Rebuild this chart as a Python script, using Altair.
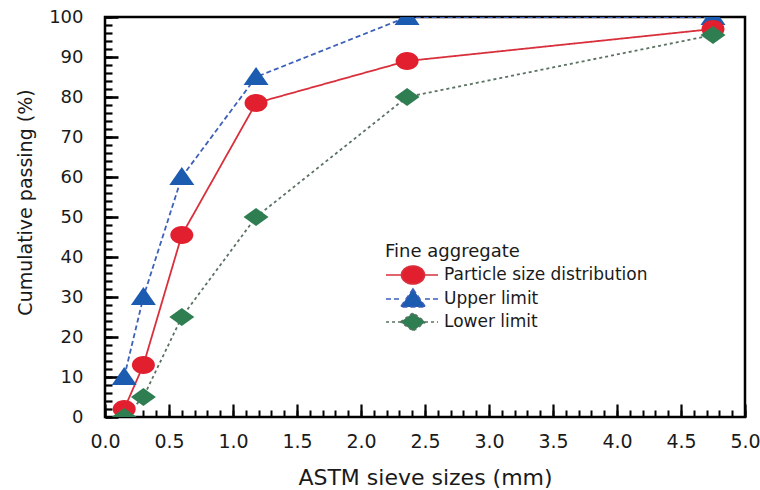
import altair as alt
import pandas as pd

# ---- data ----
sieve_mm = [0.15, 0.3, 0.6, 1.18, 2.36, 4.75]
psd = [2, 13, 45.5, 78.5, 89, 97]
upper = [10, 30, 60, 85, 100, 100]
lower = [0, 5, 25, 50, 80, 95.5]

series_names = ["Particle size distribution", "Upper limit", "Lower limit"]
legend_title = "Fine aggregate"
x_title = "ASTM sieve sizes (mm)"
y_title = "Cumulative passing (%)"

x_major = [0.0, 0.5, 1.0, 1.5, 2.0, 2.5, 3.0, 3.5, 4.0, 4.5, 5.0]
x_minor = [round(i * 0.1, 1) for i in range(51)]
y_major = [0, 10, 20, 30, 40, 50, 60, 70, 80, 90, 100]
y_minor = list(range(0, 101, 2))

# ---- styles (legend order: PSD, upper, lower) ----
fill_colors = ["#e21f2e", "#1b5bb0", "#2f7e52"]
line_colors = ["#d8303c", "#3d60b8", "#5b7262"]
dashes = [[1, 0], [5, 3], [3, 3]]

ellipse = "M1.15,0A1.15,0.9 0 1,1 -1.15,0A1.15,0.9 0 1,1 1.15,0Z"
tri = "M0,-1L1.25,0.8L-1.25,0.8Z"
dia = "M-1.25,0L0,-0.9L1.25,0L0,0.9Z"
stub = "M-2.7,0H-1.2M1.2,0H2.5"
chart_shapes = [ellipse, tri, dia]
legend_shapes = [stub + ellipse, stub + tri, stub + dia]

rows = []
for name, vals in [("Upper limit", upper), ("Particle size distribution", psd), ("Lower limit", lower)]:
    for s, v in zip(sieve_mm, vals):
        rows.append({"series": name, "size": s, "pct": v})
df = pd.DataFrame(rows)

FONT = "DejaVu Sans"
TXT = "#1a1a1a"

xs = alt.Scale(domain=[0, 5], nice=False, zero=False)
ys = alt.Scale(domain=[0, 100], nice=False)

major_x_axis = alt.Axis(
    orient="bottom", values=x_major, format=".1f", offset=-13, tickSize=13, tickWidth=2.2,
    tickColor="black", domain=False, grid=False, labelFont=FONT, labelFontSize=19,
    labelColor=TXT, labelPadding=15, labelFlush=False, labelOverlap=False, labelBound=False,
    title=x_title, titleFont=FONT, titleFontSize=22, titleFontWeight="normal",
    titleColor=TXT, titleY=63,
)
major_y_axis = alt.Axis(
    orient="left", values=y_major, format="d", offset=-13, tickSize=13, tickWidth=2.6,
    tickColor="black", domain=False, grid=False, labelFont=FONT, labelFontSize=18,
    labelColor=TXT, labelPadding=22, labelFlush=False, labelOverlap=False, labelBound=False,
    title=y_title, titleFont=FONT, titleFontSize=19, titleFontWeight="normal",
    titleColor=TXT, titleX=-83, titleY=185,
)
minor_x_axis = alt.Axis(
    orient="bottom", values=x_minor, offset=-7, tickSize=7, tickWidth=2,
    tickColor="black", domain=False, grid=False, labels=False, title="",
)
minor_y_axis = alt.Axis(
    orient="left", values=y_minor, offset=-7, tickSize=7, tickWidth=2.2,
    tickColor="black", domain=False, grid=False, labels=False, title="",
)

lines = alt.Chart(df).mark_line(strokeWidth=1.8, clip=True).encode(
    x=alt.X("size:Q", scale=xs, axis=major_x_axis),
    y=alt.Y("pct:Q", scale=ys, axis=major_y_axis),
    color=alt.Color("series:N", scale=alt.Scale(domain=series_names, range=line_colors), legend=None),
    strokeDash=alt.StrokeDash("series:N", scale=alt.Scale(domain=series_names, range=dashes), legend=None),
    detail="series:N",
)

points = alt.Chart(df).mark_point(filled=True, size=400, opacity=1, clip=True).encode(
    x=alt.X("size:Q", scale=xs, axis=minor_x_axis),
    y=alt.Y("pct:Q", scale=ys, axis=minor_y_axis),
    color=alt.Color("series:N", scale=alt.Scale(domain=series_names, range=fill_colors), legend=None),
    shape=alt.Shape("series:N", scale=alt.Scale(domain=series_names, range=chart_shapes), legend=None),
)

leg = alt.Legend(
    title=legend_title, orient="none", legendX=280, legendY=226, padding=0,
    titleFont=FONT, titleFontSize=18, titleFontWeight="normal", titleColor=TXT, titlePadding=3,
    labelFont=FONT, labelFontSize=17, labelColor=TXT, labelLimit=400,
    symbolSize=400, symbolStrokeWidth=1.6, symbolOpacity=1, symbolOffset=17,
    labelOffset=20, rowPadding=-3,
)

legend_layer = alt.Chart(df).mark_point(filled=True, size=400, strokeWidth=1.6).encode(
    x=alt.X("size:Q", scale=xs, axis=None),
    y=alt.Y("pct:Q", scale=ys, axis=None),
    fill=alt.Fill("series:N", scale=alt.Scale(domain=series_names, range=fill_colors), legend=leg),
    stroke=alt.Stroke("series:N", scale=alt.Scale(domain=series_names, range=line_colors), legend=leg),
    shape=alt.Shape("series:N", scale=alt.Scale(domain=series_names, range=legend_shapes), legend=leg),
    strokeDash=alt.StrokeDash("series:N", scale=alt.Scale(domain=series_names, range=dashes), legend=leg),
    opacity=alt.value(0),
)

chart = (
    alt.layer(lines, points, legend_layer)
    .resolve_scale(color="independent", shape="independent", strokeDash="independent",
                   fill="independent", stroke="independent")
    .resolve_axis(x="independent", y="independent")
    .properties(width=640, height=400, autosize="none",
                padding={"left": 105, "top": 17, "right": 15, "bottom": 73},
                background="white")
    .configure_view(stroke="black", strokeWidth=2.5)
)

chart.save("out.html", embed_options={"renderer": "svg", "actions": False})
